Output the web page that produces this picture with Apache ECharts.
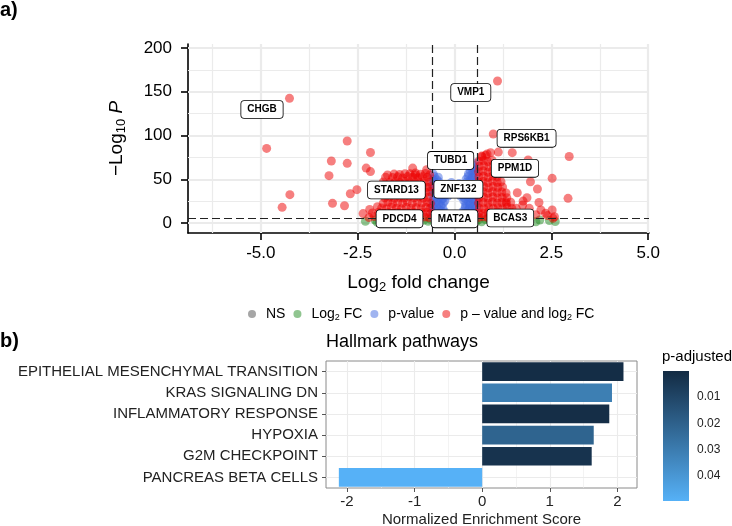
<!DOCTYPE html>
<html><head><meta charset="utf-8">
<script src="https://cdn.jsdelivr.net/npm/echarts@6/dist/echarts.min.js"></script>
<style>html,body{margin:0;padding:0;background:#fff}#c{width:732px;height:526px}</style>
</head><body><div id="c"></div>
<script>
// ---------------- Volcano plot data (log2FC, -log10 P) ----------------
const nsPoints = [[-0.5,2],[-0.35,3.5],[-0.2,1],[0,2.8],[0.15,1.5],[0.3,3.9],[0.45,2.2],[0.55,0.8],[-0.05,0.5]];
const fcPoints = [[-2.3,2],[-2.05,3.5],[-1.8,1.5],[-1.6,3.8],[-1.35,2.5],[-1.1,4],[-0.95,1.2],[-0.8,3.2],[-0.68,2],[-0.62,4.3],[-1.5,0.8],[-2.0,1],
  [0.62,3.8],[0.7,1.5],[0.8,4],[0.92,2.2],[1.05,3.6],[1.2,1.2],[1.35,3],[1.55,2],[1.75,4],[1.95,2.6],[2.1,1.5],[2.2,3.5],[2.45,2.8],[2.6,1.8]];
const pPoints = [
  [-0.57,7.2],[-0.46,6.5],[-0.35,7.9],[-0.26,6.8],[-0.56,13.1],[-0.45,12.4],[-0.34,13.8],[-0.26,12.9],
  [-0.57,19.4],[-0.46,18.7],[-0.35,20.1],[-0.56,25.6],[-0.45,24.9],[-0.34,26.2],[-0.25,25.3],
  [-0.57,31.5],[-0.46,32.2],[-0.35,30.9],[-0.24,31.8],[-0.56,37.8],[-0.45,37.1],[-0.34,38.4],[-0.22,37.5],
  [-0.57,43.9],[-0.46,44.6],[-0.35,43.2],[-0.56,50.1],[-0.46,49.4],[-0.55,56.2],
  [-0.51,10.1],[-0.4,9.6],[-0.3,10.4],[-0.52,16.2],[-0.41,15.8],[-0.3,16.6],[-0.51,22.3],[-0.4,21.9],[-0.29,22.7],
  [-0.52,28.4],[-0.41,28.9],[-0.3,28.1],[-0.51,34.6],[-0.4,34.2],[-0.28,35.0],[-0.52,40.7],[-0.41,40.2],[-0.29,41.1],
  [-0.51,46.8],[-0.4,47.3],[-0.52,53.1],[-0.42,52.4],
  [0.21,7.4],[0.31,6.6],[0.42,7.9],[0.53,6.9],[0.22,13.2],[0.32,12.5],[0.43,13.9],[0.54,12.8],
  [0.28,19.1],[0.39,20.0],[0.5,19.4],[0.57,18.6],[0.24,25.7],[0.35,25.0],[0.46,26.3],[0.56,25.4],
  [0.2,31.6],[0.31,32.3],[0.42,31.0],[0.53,31.9],[0.22,37.9],[0.33,37.2],[0.44,38.5],[0.55,37.6],
  [0.26,44.0],[0.37,44.7],[0.48,43.3],[0.57,44.2],[0.3,50.2],[0.41,49.5],[0.52,50.8],
  [0.36,56.4],[0.47,57.1],[0.56,55.8],[0.44,62.6],[0.54,63.3],[0.53,68.5],
  [0.26,10.2],[0.37,9.7],[0.48,10.5],[0.27,16.3],[0.37,15.9],[0.48,16.7],[0.29,22.4],[0.4,22.0],[0.51,22.8],
  [0.26,28.5],[0.37,29.0],[0.48,28.2],[0.27,34.7],[0.38,34.3],[0.49,35.1],[0.28,40.8],[0.39,40.3],[0.5,41.2],
  [0.32,46.9],[0.43,47.4],[0.54,47.0],[0.35,53.2],[0.46,52.5],[0.41,59.3],[0.52,59.8],[0.49,65.9],
  [-0.14,36.2],[-0.02,41.5],[0.09,38.2],[-0.08,46.4],[0.12,45.1],[0.16,30.5],[-0.17,30.8]];
const fcpPoints = [
  // left outliers
  [-4.26,142.5],[-4.85,85.3],[-4.25,32.4],[-4.45,17.9],
  [-2.77,93.7],[-3.18,70.9],[-2.77,68.2],[-3.24,54.1],[-2.69,33.5],[-2.52,38.1],[-3.15,22.5],[-2.84,19.8],[-2.36,10.8],
  [-2.17,80.6],[-2.28,62.8],[-2.17,58.8],[-2.19,15.6],[-1.99,18.6],[-1.08,62.8],[-1.01,57.2],[-0.72,61.0],
  // left cluster
  [-2.21,6.2],[-2.07,7.5],[-1.93,5.8],[-1.8,7.1],[-1.66,6.0],[-1.53,7.8],[-1.41,5.9],[-1.28,6.9],[-1.14,6.3],[-1.02,7.6],[-0.9,5.7],[-0.77,6.8],[-0.66,6.1],
  [-2.12,11.4],[-1.96,12.3],[-1.83,10.8],[-1.71,12.0],[-1.58,11.2],[-1.46,12.6],[-1.33,10.9],[-1.2,11.8],[-1.07,12.4],[-0.95,10.7],[-0.83,11.9],[-0.71,12.2],[-0.62,10.6],
  [-1.88,17.2],[-1.76,16.4],[-1.63,18.1],[-1.5,17.0],[-1.37,16.2],[-1.25,17.9],[-1.12,16.8],[-0.99,17.5],[-0.86,16.3],[-0.74,17.8],[-0.63,16.9],
  [-1.84,22.6],[-1.72,23.9],[-1.6,22.3],[-1.47,23.5],[-1.34,22.8],[-1.22,24.1],[-1.09,22.5],[-0.96,23.7],[-0.84,22.9],[-0.71,24.0],[-0.62,22.4],
  [-1.8,28.9],[-1.68,29.7],[-1.55,28.3],[-1.42,29.5],[-1.3,28.6],[-1.17,30.1],[-1.04,28.8],[-0.92,29.9],[-0.8,28.4],[-0.68,29.6],
  [-1.76,34.6],[-1.63,35.8],[-1.51,34.2],[-1.38,35.4],[-1.26,34.9],[-1.13,36.0],[-1.0,34.5],[-0.88,35.7],[-0.75,34.8],[-0.64,35.9],
  [-1.72,40.8],[-1.59,41.6],[-1.46,40.3],[-1.34,41.9],[-1.21,40.6],[-1.08,41.4],[-0.96,40.2],[-0.83,41.7],[-0.71,40.9],[-0.62,41.5],
  [-1.84,46.9],[-1.67,46.5],[-1.53,47.3],[-1.41,46.1],[-1.28,47.8],[-1.15,46.7],[-1.03,47.4],[-0.9,46.2],[-0.78,47.6],[-0.66,46.8],
  [-1.78,52.3],[-1.6,51.9],[-1.47,52.8],[-1.34,51.5],[-1.21,53.1],[-1.08,52.2],[-0.95,51.7],[-0.83,53.0],[-0.7,52.4],
  [-1.73,55.0],[-1.56,55.9],[-1.42,55.5],[-1.28,56.4],[-1.15,56.2],[-1.01,55.3],[-0.88,55.8],[-0.75,56.6],[-0.64,55.1],
  // right cluster
  [0.63,6.4],[0.75,7.2],[0.87,5.9],[0.99,7.6],[1.11,6.2],[1.23,7.4],[1.35,5.8],[1.47,6.9],[1.6,6.3],[1.72,7.7],
  [0.62,11.6],[0.74,10.8],[0.86,12.2],[0.98,11.1],[1.1,12.5],[1.22,10.9],[1.34,11.8],[1.46,12.4],[1.58,10.7],
  [0.64,17.1],[0.76,16.3],[0.88,17.8],[1.0,16.6],[1.12,17.4],[1.24,16.2],[1.36,17.9],[1.48,16.8],
  [0.62,22.8],[0.74,23.6],[0.86,22.4],[0.98,23.9],[1.1,22.7],[1.22,23.4],[1.34,22.2],[1.45,23.8],
  [0.63,28.7],[0.75,29.5],[0.87,28.2],[0.99,29.8],[1.11,28.5],[1.23,29.3],[1.35,28.9],
  [0.62,34.9],[0.74,35.6],[0.86,34.3],[0.98,35.8],[1.1,34.7],[1.22,35.5],[1.33,34.4],
  [0.64,40.6],[0.76,41.5],[0.88,40.2],[1.0,41.8],[1.12,40.9],[1.24,41.3],
  [0.62,46.8],[0.74,47.5],[0.86,46.3],[0.98,47.9],[1.1,46.6],[1.2,47.2],
  [0.63,52.7],[0.75,53.5],[0.87,52.2],[0.99,53.8],[1.1,52.9],
  [0.62,58.6],[0.74,59.4],[0.86,58.1],[0.98,59.7],[1.08,58.8],
  [0.64,64.8],[0.76,65.5],[0.88,64.2],[1.0,65.9],
  [0.63,70.7],[0.75,71.4],[0.86,70.2],[0.97,71.8],[0.7,76.5],[0.8,77.4],
  // right outliers
  [1.11,162.3],[1.0,101.7],[1.13,81.1],[1.49,80.4],[2.96,76.0],[1.9,72],[0.93,80.4],[0.84,78.9],[0.71,75.8],
  [2.52,51.1],[1.96,47.2],[2.14,38.9],[1.62,34.6],[1.87,28.9],[1.77,25.1],[2.93,28.2],[2.18,23.5],
  [2.52,14.9],[2.35,11.1],[2.54,5.4],[1.59,16.8],[1.76,20.6],[1.93,16.8],[2.23,14.9],[2.58,7.2],[2.4,8.5],[1.33,24.4],[2.1,9.6]];

const geneNames  = ['CHGB','VMP1','RPS6KB1','TUBD1','PPM1D','STARD13','ZNF132','PDCD4','MAT2A','BCAS3'];
const geneLabelX = [-4.97, 0.42, 1.86, -0.1, 1.56, -1.5, 0.1, -1.42, 0.0, 1.44];
const geneLabelY = [129.7, 149.1, 96.8, 71.6, 62.5, 37.7, 38.6, 4.8, 4.8, 5.7];
const fcCutoff = 0.585;
const pCutoff = 5;
const volcXTicks = [-5, -2.5, 0, 2.5, 5];
const volcXMinor = [-6.25, -3.75, -1.25, 1.25, 3.75];
const volcYTicks = [0, 50, 100, 150, 200];
const volcYMinor = [25, 75, 125, 175];

// ---------------- Hallmark pathways data ----------------
const pathways = ['EPITHELIAL MESENCHYMAL TRANSITION','KRAS SIGNALING DN','INFLAMMATORY RESPONSE','HYPOXIA','G2M CHECKPOINT','PANCREAS BETA CELLS'];
const nes = [2.09, 1.92, 1.88, 1.65, 1.62, -2.12];
const padj = [0.0008, 0.031, 0.0012, 0.021, 0.003, 0.0497];
const nesTicks = [-2, -1, 0, 1, 2];
const nesMinor = [-1.5, -0.5, 0.5, 1.5];
const padjTicks = [0.01, 0.02, 0.03, 0.04];

// ---------------- chart ----------------
const FF = '"Liberation Sans", Arial, Helvetica, sans-serif';
const colorMin = 0, colorMax = Math.max(...padj);
const chart = echarts.init(document.getElementById('c'), null, {renderer: 'canvas'});

function gl(key, vals, width) {
  return vals.map(v => ({[key]: v, lineStyle: {color: '#EBEBEB', width: width, type: 'solid'}}));
}
const volcGrid = [].concat(gl('xAxis', volcXMinor, 1.2), gl('yAxis', volcYMinor, 1.2), gl('xAxis', volcXTicks, 2.2), gl('yAxis', volcYTicks, 2.2));
const barGrid = [].concat(gl('xAxis', nesMinor, 0.6), gl('xAxis', nesTicks, 1.1), gl('yAxis', pathways, 1.1));

const legendLabels = {
  'NS': '{t|NS}',
  'Log2 FC': '{t|Log}{s|2}{t| FC}',
  'p-value': '{t|p-value}',
  'p - value and log2 FC': '{t|p – value and log}{s|2}{t| FC}'
};
const markBase = {silent: true, symbol: ['none', 'none'], label: {show: false}, emphasis: {disabled: true}, animation: false};

const scat = (name, data, color, z) => ({
  type: 'scatter', name, data, xAxisIndex: 0, yAxisIndex: 0, symbolSize: 9, z,
  itemStyle: {color, opacity: 1}, silent: true
});

const option = {
  animation: false,
  textStyle: {fontFamily: FF},
  title: [
    {text: 'a)', left: 0, top: 0, padding: 0, textStyle: {fontSize: 20, fontWeight: 'bold', color: '#000', fontFamily: FF}},
    {text: 'b)', left: 0, top: 331, padding: 0, textStyle: {fontSize: 20, fontWeight: 'bold', color: '#000', fontFamily: FF}},
    {text: 'Hallmark pathways', left: 326, top: 333, padding: 0, textStyle: {fontSize: 18, fontWeight: 'normal', color: '#000', fontFamily: FF}},
    {text: 'p-adjusted', left: 662, top: 349, padding: 0, textStyle: {fontSize: 15, fontWeight: 'normal', color: '#000', fontFamily: FF}}
  ],
  legend: {
    data: ['NS', 'Log2 FC', 'p-value', 'p - value and log2 FC'],
    left: 248, top: 307, icon: 'circle', itemWidth: 18, itemHeight: 8, itemGap: 8, padding: 0,
    formatter: n => legendLabels[n],
    textStyle: {color: '#000', rich: {
      t: {fontSize: 14, lineHeight: 16, color: '#000', fontFamily: FF},
      s: {fontSize: 9, lineHeight: 9, verticalAlign: 'bottom', color: '#000', fontFamily: FF}
    }}
  },
  grid: [
    {left: 188, top: 44, width: 461, height: 189, outerBoundsMode: 'none'},
    {left: 326, top: 361, width: 311, height: 127, show: true, borderColor: '#8a8a8a', borderWidth: 1, backgroundColor: '#fff', outerBoundsMode: 'none'},
    {left: 663, top: 371, width: 26, height: 130, outerBoundsMode: 'none'}
  ],
  xAxis: [
    {gridIndex: 0, type: 'value', min: -6.88, max: 5.02,
     axisLine: {show: true, onZero: false, lineStyle: {color: '#000', width: 1.6}},
     axisTick: {show: true, customValues: volcXTicks, length: 7, lineStyle: {color: '#000', width: 1.6}},
     axisLabel: {customValues: volcXTicks, formatter: v => v.toFixed(1), fontSize: 17, color: '#000', margin: 12, fontFamily: FF},
     splitLine: {show: false},
     name: '{n|Log}{s|2}{n| fold change}', nameLocation: 'middle', nameGap: 39,
     nameTextStyle: {rich: {
       n: {fontSize: 19, lineHeight: 22, color: '#000', fontFamily: FF},
       s: {fontSize: 13, lineHeight: 13, verticalAlign: 'bottom', color: '#000', fontFamily: FF}}}},
    {gridIndex: 1, type: 'value', min: -2.31, max: 2.29,
     axisLine: {show: false, onZero: false},
     axisTick: {show: true, customValues: nesTicks, length: 4, lineStyle: {color: '#555'}},
     axisLabel: {customValues: nesTicks, fontSize: 15, color: '#222', margin: 6, fontFamily: FF},
     splitLine: {show: false},
     name: 'Normalized Enrichment Score', nameLocation: 'middle', nameGap: 24,
     nameTextStyle: {fontSize: 15, color: '#222', fontFamily: FF}},
    {gridIndex: 2, type: 'category', data: ['c'], show: false}
  ],
  yAxis: [
    {gridIndex: 0, type: 'value', min: -11.4, max: 204.6,
     axisLine: {show: true, onZero: false, lineStyle: {color: '#000', width: 1.6}},
     axisTick: {show: true, customValues: volcYTicks, length: 7, lineStyle: {color: '#000', width: 1.6}},
     axisLabel: {customValues: volcYTicks, fontSize: 17, color: '#000', margin: 16, fontFamily: FF},
     splitLine: {show: false},
     name: '{n|−Log}{s|10}{n| }{i|P}', nameLocation: 'middle', nameGap: 60,
     nameTextStyle: {rich: {
       n: {fontSize: 19, lineHeight: 22, color: '#000', fontFamily: FF},
       s: {fontSize: 13, lineHeight: 13, verticalAlign: 'bottom', color: '#000', fontFamily: FF},
       i: {fontSize: 19, lineHeight: 22, fontStyle: 'italic', color: '#000', fontFamily: FF}}}},
    {gridIndex: 1, type: 'category', data: pathways, inverse: true,
     axisLine: {show: false, onZero: false},
     axisTick: {show: true, alignWithLabel: true, length: 4, lineStyle: {color: '#555'}},
     axisLabel: {fontSize: 15, color: '#222', margin: 8, fontFamily: FF},
     splitLine: {show: false}},
    {gridIndex: 2, type: 'value', min: colorMin, max: colorMax, inverse: true, position: 'right',
     axisLine: {show: false},
     axisTick: {show: true, customValues: padjTicks, inside: true, length: 5, lineStyle: {color: '#fff', width: 1}},
     axisLabel: {customValues: padjTicks, formatter: v => v.toFixed(2), fontSize: 12, color: '#222', margin: 8, fontFamily: FF},
     splitLine: {show: false}},
    {gridIndex: 2, type: 'value', min: colorMin, max: colorMax, inverse: true, position: 'left',
     axisLine: {show: false},
     axisTick: {show: true, customValues: padjTicks, inside: true, length: 5, lineStyle: {color: '#fff', width: 1}},
     axisLabel: {show: false}, splitLine: {show: false}}
  ],
  visualMap: [{
    type: 'continuous', show: false, seriesIndex: 5, dimension: 2,
    min: colorMin, max: colorMax, inRange: {color: ['#132B43', '#56B1F7']}
  }],
  series: [
    Object.assign(scat('NS', nsPoints, 'rgba(77,77,77,0.5)', 2),
      {markLine: Object.assign({}, markBase, {z: 1, data: volcGrid})}),
    scat('Log2 FC', fcPoints, 'rgba(34,139,34,0.5)', 3),
    scat('p-value', pPoints, 'rgba(65,105,225,0.5)', 4),
    scat('p - value and log2 FC', fcpPoints, 'rgba(238,0,0,0.5)', 5),
    {
      type: 'scatter', name: 'genes', xAxisIndex: 0, yAxisIndex: 0, z: 10, silent: true,
      data: geneNames.map((g, i) => ({name: g, value: [geneLabelX[i], geneLabelY[i]]})),
      symbolSize: 0, itemStyle: {color: '#fff', opacity: 1},
      label: {show: true, position: 'inside', formatter: '{b}', fontSize: 10, fontWeight: 'bold', color: '#000',
              backgroundColor: '#fff', borderColor: '#000', borderWidth: 0.8, borderRadius: 3,
              padding: [3, 6, 2, 6], lineHeight: 12, fontFamily: FF, opacity: 1},
      markLine: Object.assign({}, markBase, {z: 6,
        lineStyle: {color: '#222', width: 1.2, type: [8, 4]},
        data: [{xAxis: -fcCutoff}, {xAxis: fcCutoff}, {yAxis: pCutoff}]})
    },
    {
      type: 'bar', name: 'NES', xAxisIndex: 1, yAxisIndex: 1, z: 2, silent: true,
      data: pathways.map((p, i) => [nes[i], p, padj[i]]),
      encode: {x: 0, y: 1}, barCategoryGap: '12%',
      markLine: Object.assign({}, markBase, {z: 1, data: barGrid})
    },
    {
      type: 'bar', name: 'colorbar', xAxisIndex: 2, yAxisIndex: 2, silent: true,
      data: [colorMax], barWidth: '100%',
      itemStyle: {color: new echarts.graphic.LinearGradient(0, 0, 0, 1, [{offset: 0, color: '#132B43'}, {offset: 1, color: '#56B1F7'}])}
    }
  ]
};
chart.setOption(option);
</script>
</body></html>
